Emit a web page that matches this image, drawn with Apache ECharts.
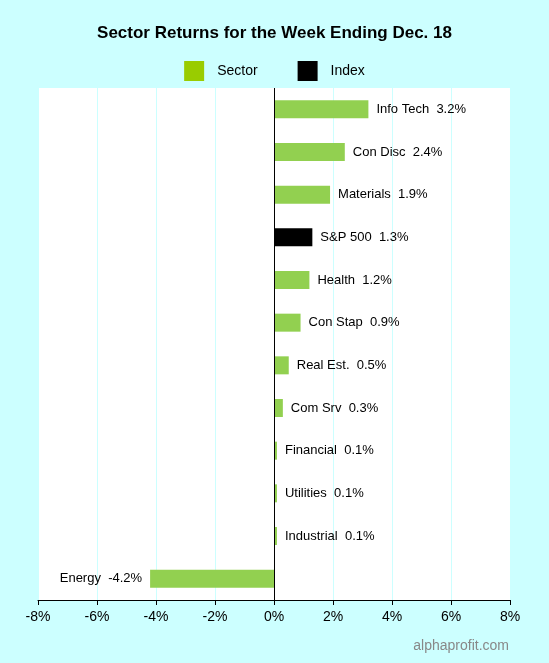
<!DOCTYPE html>
<html><head><meta charset="utf-8">
<script src="https://cdn.jsdelivr.net/npm/echarts@6/dist/echarts.min.js"></script>
<style>html,body{margin:0;padding:0;background:#ccffff}#c{width:549px;height:663px}</style>
</head><body><div id="c"></div>
<script>
const categories = ["Info Tech","Con Disc","Materials","S&P 500","Health","Con Stap","Real Est.","Com Srv","Financial","Utilities","Industrial","Energy"];
const values = [3.2,2.4,1.9,1.3,1.2,0.9,0.5,0.3,0.1,0.1,0.1,-4.2];
const indexName = "S&P 500";
const xTicks = [-8,-6,-4,-2,0,2,4,6,8];

const cats = categories.slice().reverse();
const vals = values.slice().reverse();
const lbl = {show:true,fontSize:13,color:'#000',fontFamily:'Arial',
  position:'right', distance:8,
  formatter:p=>cats[p.dataIndex]+'  '+vals[p.dataIndex].toFixed(1)+'%'};
const sector = vals.map((v,i)=>cats[i]===indexName?'-':{value:v,label:v<0?{position:'left'}:{}});
const index = vals.map((v,i)=>cats[i]===indexName?v:'-');
const chart = echarts.init(document.getElementById('c'));
chart.setOption({
  backgroundColor:'#ccffff',
  animation:false,
  title:{text:'Sector Returns for the Week Ending Dec. 18',left:'center',top:20,
    textStyle:{fontSize:17,fontWeight:'bold',color:'#000',fontFamily:'Arial'}},
  legend:{top:56,left:'center',itemWidth:20,itemHeight:20,itemGap:40,icon:'rect',
    textStyle:{fontSize:14,color:'#000',fontFamily:'Arial',padding:[0,0,0,8]},
    data:[{name:'Sector',itemStyle:{color:'#99cc00'}},{name:'Index',itemStyle:{color:'#000'}}]},
  grid:{left:38,right:39,top:88,bottom:63,backgroundColor:'#fff',show:true,borderWidth:0},
  graphic:[{type:'text',right:40,bottom:10,style:{text:'alphaprofit.com',fontSize:14,fill:'#888',fontFamily:'Arial'}}],
  xAxis:{type:'value',min:xTicks[0],max:xTicks[xTicks.length-1],interval:2,
    axisLine:{show:true,lineStyle:{color:'#000'}},
    axisTick:{show:true,length:5,lineStyle:{color:'#000'}},
    axisLabel:{formatter:v=>v+'%',fontSize:14,color:'#000',fontFamily:'Arial',margin:10},
    splitLine:{show:true,lineStyle:{color:'#ccffff'}}},
  yAxis:{type:'category',data:cats,axisLine:{show:false},axisTick:{show:false},axisLabel:{show:false}},
  series:[
    {name:'Sector',type:'bar',stack:'a',data:sector,barWidth:18,itemStyle:{color:'#92d050'},label:lbl},
    {name:'Index',type:'bar',stack:'a',data:index,barWidth:18,itemStyle:{color:'#000'},label:lbl},
    {type:'line',data:[],markLine:{symbol:'none',silent:true,label:{show:false},lineStyle:{color:'#000',type:'solid',width:1},data:[{xAxis:0}]}}
  ]
});
</script></body></html>
